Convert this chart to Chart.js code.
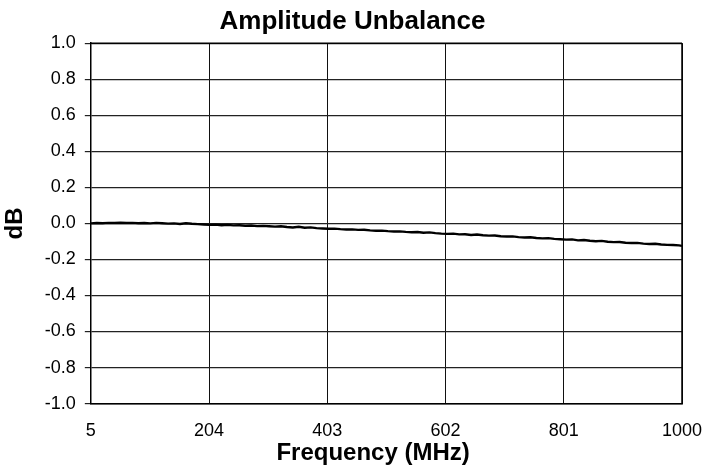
<!DOCTYPE html>
<html>
<head>
<meta charset="utf-8">
<script src="https://cdn.jsdelivr.net/npm/chart.js@4/dist/chart.umd.min.js"></script>
<style>
  html, body { margin: 0; padding: 0; background: #fff; }
  #wrap { width: 704px; height: 466px; }
</style>
</head>
<body>
<div id="wrap"><canvas id="myChart" width="704" height="466"></canvas></div>
<script>
var freqMHz = [5, 15, 25, 35, 45, 55, 65, 75, 85, 95,
  105, 115, 125, 135, 145, 155, 165, 175, 185, 195,
  205, 215, 225, 235, 245, 255, 265, 275, 285, 295,
  305, 315, 325, 335, 345, 355, 365, 375, 385, 395,
  405, 415, 425, 435, 445, 455, 465, 475, 485, 495,
  505, 515, 525, 535, 545, 555, 565, 575, 585, 595,
  605, 615, 625, 635, 645, 655, 665, 675, 685, 695,
  705, 715, 725, 735, 745, 755, 765, 775, 785, 795,
  805, 815, 825, 835, 845, 855, 865, 875, 885, 895,
  905, 915, 925, 935, 945, 955, 965, 975, 985, 995, 1000];

var unbalanceDb = [0.000, 0.002, 0.001, 0.003, 0.002, 0.004, 0.002, 0.003, 0.001, 0.002,
  0.000, 0.003, 0.001, -0.001, 0.000, -0.003, 0.001, -0.002, -0.004, -0.006,
  -0.008, -0.007, -0.010, -0.008, -0.011, -0.010, -0.013, -0.012, -0.015, -0.014,
  -0.016, -0.018, -0.016, -0.020, -0.023, -0.019, -0.024, -0.022, -0.026, -0.028,
  -0.030, -0.029, -0.032, -0.034, -0.033, -0.036, -0.035, -0.039, -0.041, -0.040,
  -0.043, -0.045, -0.044, -0.047, -0.049, -0.048, -0.052, -0.050, -0.054, -0.057,
  -0.058, -0.057, -0.061, -0.060, -0.064, -0.062, -0.066, -0.068, -0.067, -0.071,
  -0.073, -0.072, -0.076, -0.078, -0.077, -0.081, -0.083, -0.082, -0.086, -0.088,
  -0.090, -0.089, -0.094, -0.092, -0.096, -0.099, -0.097, -0.102, -0.104, -0.103,
  -0.107, -0.109, -0.108, -0.112, -0.114, -0.113, -0.117, -0.119, -0.120, -0.122, -0.125];

var xTicks = [5, 204, 403, 602, 801, 1000];

var points = [];
for (var i = 0; i < freqMHz.length; i++) {
  points.push({ x: freqMHz[i], y: unbalanceDb[i] });
}

var font = "'Liberation Sans', Arial, sans-serif";

var ctx = document.getElementById("myChart").getContext("2d");
var chart = new Chart(ctx, {
  type: "line",
  data: {
    datasets: [
      {
        data: points,
        borderColor: "#000000",
        borderWidth: 2.4,
        pointRadius: 0,
        tension: 0,
      },
    ],
  },
  options: {
    responsive: false,
    animation: false,
    layout: { padding: { left: 1, right: 0, top: 0, bottom: 0 } },
    plugins: {
      legend: { display: false },
      tooltip: { enabled: false },
      title: {
        display: true,
        text: "Amplitude Unbalance",
        color: "#000",
        font: { family: font, size: 26, weight: "bold" },
        padding: { top: 6, bottom: 6 },
      },
    },
    scales: {
      x: {
        type: "linear",
        min: 5,
        max: 1000,
        afterBuildTicks: function (scale) {
          scale.ticks = xTicks.map(function (v) { return { value: v }; });
        },
        afterFit: function (scale) {
          // keep the tick padding from widening the side margins
          scale.paddingLeft = 0;
          scale.paddingRight = 22;
        },
        ticks: {
          color: "#000",
          font: { family: font, size: 18 },
          padding: 17,
          maxRotation: 0,
          autoSkip: false,
          callback: function (v) { return String(v); },
        },
        grid: { color: "#111", lineWidth: 1, drawTicks: false },
        border: { color: "#000", width: 1.5 },
        title: {
          display: true,
          // trailing spaces nudge the centred title a little to the left
          text: "Frequency (MHz)\u00a0\u00a0\u00a0\u00a0",
          color: "#000",
          font: { family: font, size: 24, weight: "bold" },
          padding: { top: -20, bottom: -2 },
        },
      },
      y: {
        min: -1,
        max: 1,
        ticks: {
          stepSize: 0.2,
          color: "#000",
          font: { family: font, size: 18 },
          padding: 9,
          callback: function (v) { return v.toFixed(1); },
        },
        grid: { color: "#222", lineWidth: 1.2, tickLength: 6 },
        border: { color: "#000", width: 1.5 },
        title: {
          display: true,
          text: "dB",
          color: "#000",
          font: { family: font, size: 24, weight: "bold" },
          padding: { top: 0, bottom: 6 },
        },
      },
    },
  },
  plugins: [
    {
      id: "rightBorder",
      afterDraw: function (c) {
        var a = c.chartArea, g = c.ctx;
        g.save();
        g.strokeStyle = "#000";
        g.lineWidth = 1.5;
        g.beginPath();
        g.moveTo(a.right, a.top);
        g.lineTo(a.right, a.bottom);
        g.moveTo(a.left, a.top);
        g.lineTo(a.right, a.top);
        g.stroke();
        g.restore();
      },
    },
  ],
});
</script>
</body>
</html>
